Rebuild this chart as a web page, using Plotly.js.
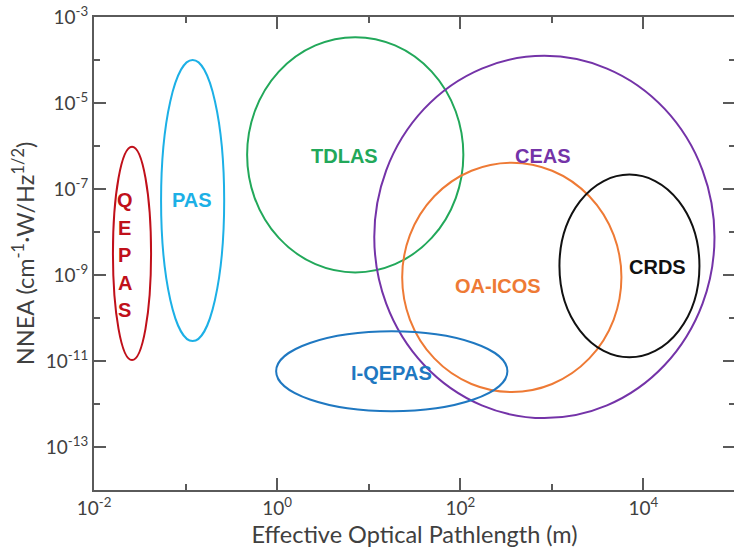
<!DOCTYPE html>
<html>
<head>
<meta charset="utf-8">
<script src="https://cdn.plot.ly/plotly-3.0.1.min.js"></script>
<style>
html, body { margin: 0; padding: 0; overflow: hidden; background: #fff; }
#chart { width: 740px; height: 551px; }
</style>
</head>
<body>
<div id="chart"></div>
<script>
// Technique regions (ellipses) in data coordinates: pathlength range (m) and NNEA range
const techniques = ["QEPAS", "PAS", "TDLAS", "CEAS", "OA-ICOS", "CRDS", "I-QEPAS"];
const xMin = [0.0161, 0.054, 0.47, 11.5, 23.2, 1210, 0.975];
const xMax = [0.042, 0.264, 108, 59700, 5750, 40900, 327];
const yMin = [1.05e-11, 2.9e-11, 1.15e-9, 4.7e-13, 1.9e-12, 1.22e-11, 6.8e-13];
const yMax = [9.6e-7, 1.0e-4, 3.4e-4, 1.25e-4, 4.1e-7, 2.16e-7, 4.9e-11];
const colors = ["#C0101A", "#1CB0E6", "#22A85A", "#7433A8", "#EE7A35", "#111111", "#1F78C1"];
// Label anchor positions (data coords)
const labelX = [0.0218, 0.118, 5.4, 807, 260, 14200, 17.6];
const labelY = [2.85e-9, 5.7e-8, 5.95e-7, 5.95e-7, 5.7e-10, 1.5e-9, 5.2e-12];

// Axis ticks
const xTickVals = [0.01, 1, 100, 10000];
const xTickText = ["10<sup>-2</sup>", "10<sup>0</sup>", "10<sup>2</sup>", "10<sup>4</sup>"];
const xMinorVals = [0.1, 10, 1000, 100000];
const yTickVals = [1e-3, 1e-5, 1e-7, 1e-9, 1e-11, 1e-13];
const yTickText = ["10<sup>-3</sup>", "10<sup>-5</sup>", "10<sup>-7</sup>", "10<sup>-9</sup>", "10<sup>-11</sup>", "10<sup>-13</sup>"];
const yMinorVals = [1e-4, 1e-6, 1e-8, 1e-10, 1e-12, 1e-14];

const shapes = techniques.map((t, i) => ({
  type: "circle", xref: "x", yref: "y",
  x0: xMin[i], x1: xMax[i], y0: yMin[i], y1: yMax[i],
  line: { color: colors[i], width: 2 }, fillcolor: "rgba(0,0,0,0)"
}));

const labelFont = "Liberation Sans, Arial, sans-serif";
const annotations = [];
techniques.forEach((t, i) => {
  if (t === "QEPAS") {
    t.split("").forEach((ch, k) => {
      annotations.push({
        x: Math.log10(labelX[i]), y: Math.log10(labelY[i]), xref: "x", yref: "y",
        text: "<b>" + ch + "</b>", showarrow: false, yshift: (2 - k) * 27.5,
        font: { family: labelFont, size: 20, color: colors[i] }
      });
    });
  } else {
    annotations.push({
      x: Math.log10(labelX[i]), y: Math.log10(labelY[i]), xref: "x", yref: "y",
      text: "<b>" + t + "</b>", showarrow: false,
      font: { family: labelFont, size: 20, color: colors[i] }
    });
  }
});

const axFont = "Lato, 'Open Sans', sans-serif";
const axisCommon = {
  showgrid: false, zeroline: false, showline: true, linecolor: "#5a5a5a", linewidth: 2,
  mirror: "ticks", ticks: "inside", ticklen: 12, tickwidth: 2, tickcolor: "#5a5a5a",
  tickfont: { family: axFont, size: 19, color: "#404040" }
};

const layout = {
  width: 740, height: 551,
  margin: { l: 94, r: 5, t: 17, b: 61 },
  paper_bgcolor: "#fff", plot_bgcolor: "#fff",
  showlegend: false,
  xaxis: Object.assign({}, axisCommon, {
    type: "log", range: [-2, 5],
    tickmode: "array", tickvals: xTickVals, ticktext: xTickText,
    minor: { tickmode: "array", tickvals: xMinorVals, ticks: "inside", ticklen: 6, tickwidth: 2, tickcolor: "#5a5a5a", showgrid: false },
    title: { text: "Effective Optical Pathlength (m)", standoff: 9,
      font: { family: axFont, size: 23.5, color: "#404040" } }
  }),
  yaxis: Object.assign({}, axisCommon, {
    type: "log", range: [-14, -3],
    tickmode: "array", tickvals: yTickVals, ticktext: yTickText,
    minor: { tickmode: "array", tickvals: yMinorVals, ticks: "inside", ticklen: 6, tickwidth: 2, tickcolor: "#5a5a5a", showgrid: false },
    title: { text: "NNEA (cm<sup>-1</sup>·W/Hz<sup>1/2</sup>)", standoff: 5,
      font: { family: axFont, size: 23.5, color: "#404040" } }
  }),
  shapes: shapes,
  annotations: annotations
};

Plotly.newPlot("chart", [{ x: [], y: [], type: "scatter", mode: "markers", hoverinfo: "skip" }], layout, { displayModeBar: false, staticPlot: true });
</script>
</body>
</html>
